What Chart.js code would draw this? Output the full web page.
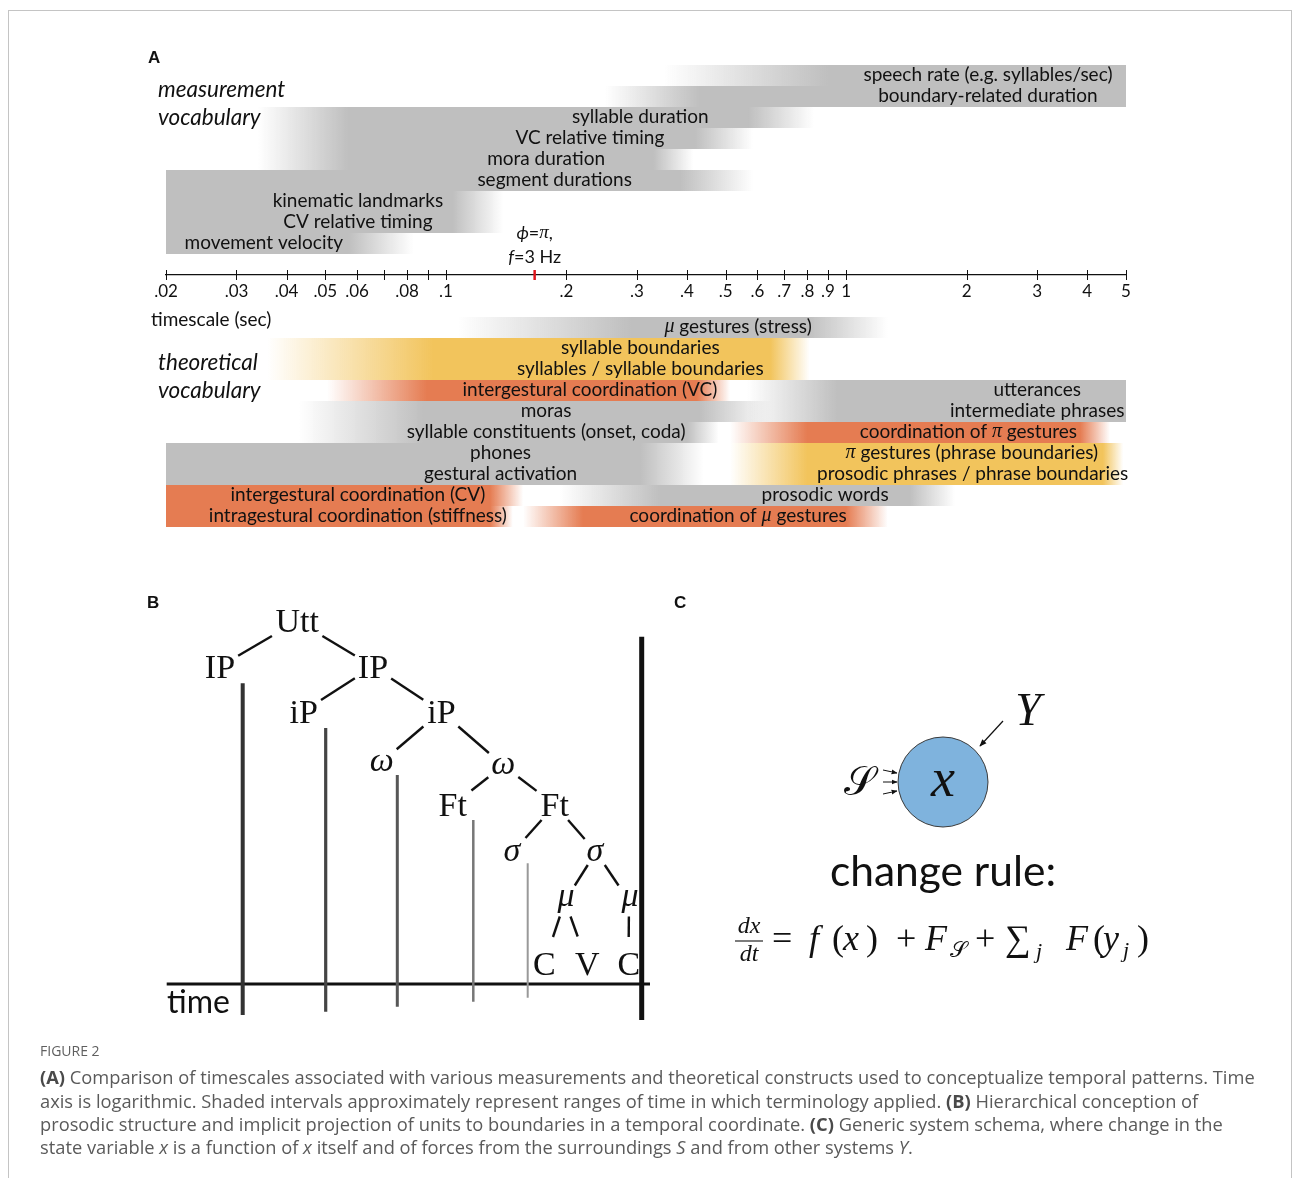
<!DOCTYPE html>
<html>
<head>
<meta charset="utf-8">
<title>Timescales of speech measurement and theory</title>
<script src="https://cdn.jsdelivr.net/npm/chart.js@4.4.1/dist/chart.umd.min.js"></script>
<style>
  html, body { margin: 0; padding: 0; background: #fff; }
  body { width: 1293px; height: 1178px; position: relative; overflow: hidden; font-family: Lato, sans-serif; color: #111; }
  #frame { position: absolute; left: 8px; top: 10px; width: 1284px; height: 1220px; border: 1px solid #c4c4c4; box-sizing: border-box; }
  canvas { position: absolute; }
  .lab { position: absolute; white-space: nowrap; line-height: 1; transform: translateY(-50%); }
  .panel { font-family: "Liberation Sans", Arial, sans-serif; font-weight: bold; font-size: 17px; }
  .vocab { font-style: italic; font-size: 22.5px; }
  .cap { position: absolute; left: 40px; white-space: nowrap; font-family: "Open Sans", sans-serif; font-size: 18.3px; color: #5a5a5a; line-height: 1; transform: translateY(-50%); }
  .cap b { color: #4a4a4a; }
  #figno { font-size: 14px; color: #5f5f5f; }
  svg { position: absolute; left: 0; top: 0; }
</style>
</head>
<body>
<div id="frame"></div>

<canvas id="timescale" width="1293" height="560" style="left:0;top:0"></canvas>
<canvas id="tree" width="520" height="445" style="left:140px;top:585px"></canvas>

<div class="lab panel" style="left:148px;top:57px">A</div>
<div class="lab vocab" style="left:158px;top:89px">measurement</div>
<div class="lab vocab" style="left:158px;top:117px">vocabulary</div>
<div class="lab" style="left:151px;top:318px;font-size:19px">timescale (sec)</div>
<div class="lab vocab" style="left:158px;top:362px">theoretical</div>
<div class="lab vocab" style="left:158px;top:390px">vocabulary</div>

<div class="lab panel" style="left:147px;top:602px">B</div>
<div class="lab panel" style="left:674px;top:602px">C</div>

<svg width="1293" height="1178" viewBox="0 0 1293 1178">
  <defs>
    <marker id="head" viewBox="0 0 10 10" refX="9" refY="5" markerWidth="6" markerHeight="6" orient="auto">
      <path d="M0,1 L10,5 L0,9 z" fill="#111"/>
    </marker>
  </defs>
  <!-- system schema -->
  <circle cx="943" cy="782" r="45" fill="#7fb3dd" stroke="#3a3a3a" stroke-width="1"/>
  <text x="943" y="796" text-anchor="middle" font-family="'Liberation Serif', serif" font-style="italic" font-size="54" fill="#111">x</text>
  <text x="859" y="795" text-anchor="middle" font-family="'DejaVu Serif', serif" font-size="40" fill="#111">𝒮</text>
  <line x1="883" y1="770" x2="897" y2="773" stroke="#111" stroke-width="1" marker-end="url(#head)"/>
  <line x1="883" y1="782" x2="897" y2="782" stroke="#111" stroke-width="1" marker-end="url(#head)"/>
  <line x1="883" y1="794" x2="897" y2="791" stroke="#111" stroke-width="1" marker-end="url(#head)"/>
  <text x="1028" y="725" text-anchor="middle" font-family="'Liberation Serif', serif" font-style="italic" font-size="46" fill="#111">Y</text>
  <line x1="1003" y1="721" x2="980" y2="746" stroke="#111" stroke-width="1.2" marker-end="url(#head)"/>
  <text x="943" y="886" text-anchor="middle" font-family="Lato, sans-serif" font-size="42.5" fill="#111">change rule:</text>
  <!-- dx/dt = f(x) + F_S + sum_j F(y_j) -->
  <g font-family="'Liberation Serif', serif" fill="#111">
    <text x="749" y="933" text-anchor="middle" font-style="italic" font-size="24">dx</text>
    <line x1="735" y1="941" x2="763" y2="941" stroke="#111" stroke-width="1.1"/>
    <text x="749" y="961" text-anchor="middle" font-style="italic" font-size="24">dt</text>
    <text y="950" font-size="36">
      <tspan x="772">=</tspan>
      <tspan x="809" font-style="italic">f</tspan>
      <tspan x="832">(</tspan>
      <tspan x="843" font-style="italic">x</tspan>
      <tspan x="866">)</tspan>
      <tspan x="896">+</tspan>
      <tspan x="925" font-style="italic">F</tspan>
      <tspan x="950" dy="7" font-size="22" font-family="'DejaVu Serif', serif">𝒮</tspan>
      <tspan x="975" dy="-7">+</tspan>
      <tspan x="1005">∑</tspan>
      <tspan x="1036" dy="8" font-size="22" font-style="italic">j</tspan>
      <tspan x="1066" dy="-8" font-style="italic">F</tspan>
      <tspan x="1093">(</tspan>
      <tspan x="1103" font-style="italic">y</tspan>
      <tspan x="1123" dy="7" font-size="22" font-style="italic">j</tspan>
      <tspan x="1137" dy="-7">)</tspan>
    </text>
  </g>
</svg>

<div class="cap" id="figno" style="top:1051px">FIGURE 2</div>
<div class="cap" style="top:1077px"><b>(A)</b> Comparison of timescales associated with various measurements and theoretical constructs used to conceptualize temporal patterns. Time</div>
<div class="cap" style="top:1101px">axis is logarithmic. Shaded intervals approximately represent ranges of time in which terminology applied. <b>(B)</b> Hierarchical conception of</div>
<div class="cap" style="top:1124px">prosodic structure and implicit projection of units to boundaries in a temporal coordinate. <b>(C)</b> Generic system schema, where change in the</div>
<div class="cap" style="top:1147px">state variable <i>x</i> is a function of <i>x</i> itself and of forces from the surroundings <i>S</i> and from other systems <i>Y</i>.</div>

<script>
// ---------- Panel A: timescales (seconds, log axis) ----------
const tickValues = [0.02, 0.03, 0.04, 0.05, 0.06, 0.07, 0.08, 0.09, 0.1, 0.2, 0.3, 0.4, 0.5, 0.6, 0.7, 0.8, 0.9, 1, 2, 3, 4, 5];
const tickLabels = ['.02', '.03', '.04', '.05', '.06', '', '.08', '', '.1', '.2', '.3', '.4', '.5', '.6', '.7', '.8', '.9', '1', '2', '3', '4', '5'];
const halfCycleAt3Hz = 1 / 6;   // phase pi at 3 Hz
const axisRow = 9.5;            // the time axis sits between the two vocabularies

// Rows 0-8: measurement vocabulary; rows 12-21: theoretical vocabulary.
// Each range is [fade-in start, solid start, solid end, fade-out end] in seconds.
const grayText = ['speech rate (e.g. syllables/sec)', 'boundary-related duration', 'syllable duration',
  'VC relative timing', 'mora duration', 'segment durations', 'kinematic landmarks', 'CV relative timing',
  'movement velocity', 'μ gestures (stress)', 'utterances', 'moras', 'intermediate phrases',
  'syllable constituents (onset, coda)', 'phones', 'gestural activation', 'prosodic words'];
const grayRow = [0, 1, 2, 3, 4, 5, 6, 7, 8, 12, 15, 16, 16, 17, 18, 19, 20];
const grayRange = [
  [0.35, 0.9, 5, 5], [0.25, 0.43, 5, 5], [0.034, 0.057, 0.57, 0.83], [0.034, 0.057, 0.42, 0.585],
  [0.034, 0.057, 0.33, 0.415], [0.02, 0.02, 0.385, 0.585], [0.02, 0.02, 0.104, 0.139], [0.02, 0.02, 0.104, 0.139],
  [0.02, 0.02, 0.057, 0.083], [0.107, 0.29, 0.8, 1.27], [0.566, 0.95, 5, 5], [0.043, 0.088, 0.43, 0.65],
  [0.566, 0.95, 5, 5], [0.043, 0.088, 0.40, 0.48], [0.02, 0.02, 0.306, 0.44], [0.02, 0.02, 0.306, 0.44],
  [0.193, 0.343, 1.44, 1.87]];
const grayLabelAt = [2.26, 2.26, 0.306, 0.229, 0.178, 0.187, 0.0603, 0.0603, 0.0351, 0.537, 3.0, 0.178, 3.0, 0.178, 0.137, 0.137, 0.886];

const boundaryText = ['syllable boundaries', 'syllables / syllable boundaries', 'π gestures (phrase boundaries)', 'prosodic phrases / phrase boundaries'];
const boundaryRow = [13, 14, 18, 19];
const boundaryRange = [[0.0358, 0.093, 0.646, 0.81], [0.0358, 0.093, 0.646, 0.81], [0.513, 0.80, 4.38, 4.92], [0.513, 0.80, 4.38, 4.92]];
const boundaryLabelAt = [0.306, 0.306, 2.06, 2.07];

const coordText = ['intergestural coordination (VC)', 'coordination of π gestures', 'intergestural coordination (CV)',
  'intragestural coordination (stiffness)', 'coordination of μ gestures'];
const coordRow = [15, 17, 20, 21, 21];
const coordRange = [[0.0505, 0.0897, 0.424, 0.513], [0.513, 0.80, 3.84, 4.56], [0.02, 0.02, 0.129, 0.156],
  [0.02, 0.02, 0.129, 0.147], [0.156, 0.22, 1.0, 1.27]];
const coordLabelAt = [0.229, 2.02, 0.0603, 0.0603, 0.537];

const LABEL_SIZE = 19;

// Text with Greek symbols set in italic serif, _..._ set in italic
function richRuns(text) {
  const runs = [];
  text.split(/(_[^_]+_|[μπϕ])/).forEach(part => {
    if (!part) return;
    if (part[0] === '_') runs.push({ t: part.slice(1, -1), kind: 'it' });
    else if (/^[μπϕ]$/.test(part)) runs.push({ t: part, kind: 'greek' });
    else runs.push({ t: part, kind: 'plain' });
  });
  return runs;
}
function runFont(kind, size) {
  if (kind === 'greek') return `italic ${size + 1}px "Liberation Serif"`;
  if (kind === 'it') return `italic ${size}px Lato`;
  return `${size}px Lato`;
}
function drawRich(ctx, text, cx, cy, size) {
  const runs = richRuns(text);
  let total = 0;
  runs.forEach(r => { ctx.font = runFont(r.kind, size); r.w = ctx.measureText(r.t).width; total += r.w; });
  let x = cx - total / 2;
  ctx.textAlign = 'left';
  ctx.textBaseline = 'middle';
  ctx.fillStyle = '#111';
  runs.forEach(r => { ctx.font = runFont(r.kind, size); ctx.fillText(r.t, x, cy); x += r.w; });
}

// Horizontal fill that fades in and out at the ends of each interval
function fadeFill(c, ranges, rgb) {
  const chart = c.chart;
  const xs = chart.scales && chart.scales.x;
  const solid = `rgba(${rgb},1)`, clear = `rgba(${rgb},0)`;
  if (!xs || c.type !== 'data' || !chart.chartArea) return solid;
  const [a, b, e, f] = ranges[c.dataIndex].map(v => xs.getPixelForValue(v));
  if (![a, b, e, f].every(Number.isFinite)) return solid;
  const span = Math.max(f - a, 1);
  const g = chart.ctx.createLinearGradient(a, 0, a + span, 0);
  const clamp = v => Math.min(Math.max(v, 0), 1);
  g.addColorStop(0, b > a + 0.5 ? clear : solid);
  g.addColorStop(clamp((b - a) / span), solid);
  g.addColorStop(clamp((e - a) / span), solid);
  g.addColorStop(1, f > e + 0.5 ? clear : solid);
  return g;
}

function makeDataset(name, rows, ranges, texts, labelAt, rgb) {
  return {
    label: name,
    data: rows.map((r, i) => ({ x: [ranges[i][0], ranges[i][3]], y: r })),
    texts, labelAt,
    backgroundColor: c => fadeFill(c, ranges, rgb),
    borderWidth: 0,
    borderSkipped: false,
    inflateAmount: 0,
    grouped: false,
    barPercentage: 1,
    categoryPercentage: 1
  };
}

const timescaleMarks = {
  id: 'timescaleMarks',
  afterDatasetsDraw(chart) {
    const { ctx, scales: { x, y } } = chart;
    ctx.save();
    chart.data.datasets.forEach(ds => {
      ds.data.forEach((d, i) => {
        drawRich(ctx, ds.texts[i], x.getPixelForValue(ds.labelAt[i]), y.getPixelForValue(d.y) - 1, LABEL_SIZE);
      });
    });
    ctx.restore();
  },
  afterDraw(chart) {
    const { ctx, scales: { x, y } } = chart;
    const ay = y.getPixelForValue(axisRow);
    ctx.save();
    ctx.strokeStyle = '#111';
    ctx.lineWidth = 1;
    x.ticks.forEach((t, i) => {
      const px = Math.round(x.getPixelForTick(i)) + 0.5;
      ctx.beginPath(); ctx.moveTo(px, ay - 5); ctx.lineTo(px, ay + 5); ctx.stroke();
    });
    const rx = x.getPixelForValue(halfCycleAt3Hz);
    ctx.strokeStyle = '#e0141c';
    ctx.lineWidth = 2.5;
    ctx.beginPath(); ctx.moveTo(rx, ay - 5); ctx.lineTo(rx, ay + 5); ctx.stroke();
    drawRich(ctx, '_ϕ_=π,', rx, ay - 42, 18);
    drawRich(ctx, '_f_=3 Hz', rx, ay - 18, 18);
    ctx.restore();
  }
};

new Chart(document.getElementById('timescale'), {
  type: 'bar',
  data: {
    datasets: [
      makeDataset('gray', grayRow, grayRange, grayText, grayLabelAt, '191,191,191'),
      makeDataset('boundaries', boundaryRow, boundaryRange, boundaryText, boundaryLabelAt, '242,196,92'),
      makeDataset('coordination', coordRow, coordRange, coordText, coordLabelAt, '229,124,82')
    ]
  },
  options: {
    indexAxis: 'y',
    responsive: false,
    animation: false,
    events: [],
    layout: { padding: { left: 166, right: 167, top: 65, bottom: 33 } },
    plugins: { legend: { display: false }, tooltip: { enabled: false } },
    scales: {
      x: {
        type: 'logarithmic',
        min: 0.02,
        max: 5,
        position: { y: axisRow },
        afterBuildTicks: s => { s.ticks = tickValues.map(v => ({ value: v })); },
        ticks: {
          autoSkip: false,
          maxRotation: 0,
          padding: 6,
          color: '#111',
          font: { family: 'Lato', size: 17 },
          callback: (v, i) => tickLabels[i]
        },
        grid: { display: false, drawTicks: false },
        border: { display: true, color: '#111', width: 1.3 }
      },
      y: {
        type: 'linear',
        reverse: true,
        offset: false,
        bounds: 'data',
        min: -0.5,
        max: 21.5,
        display: false,
        ticks: { stepSize: 1, includeBounds: false }
      }
    }
  },
  plugins: [timescaleMarks]
});

// ---------- Panel B: prosodic hierarchy projected onto time ----------
const treeLabels = ['Utt', 'IP', 'IP', 'iP', 'iP', 'ω', 'ω', 'Ft', 'Ft', 'σ', 'σ', 'μ', 'μ', 'C', 'V', 'C'];
const treeX = [15.75, 8.0, 23.3, 16.33, 30.1, 24.17, 36.33, 31.3, 41.5, 37.3, 45.6, 42.5, 48.9, 40.4, 44.75, 48.85];
const treeY = [3.6, 8.15, 8.15, 12.65, 12.65, 17.7, 18.05, 22.0, 22.0, 26.7, 26.7, 31.6, 31.6, 37.9, 37.9, 37.9];
const treeParent = [null, 0, 0, 2, 2, 4, 4, 6, 6, 8, 8, 10, 10, 11, 11, 12];
const boundaryTime = [10.27, 18.57, 25.73, 33.33, 38.77, 50.17];
const boundaryTop = [9.83, 14.3, 19.0, 23.5, 27.83, 5.17];
const boundaryBottom = [43.0, 42.67, 42.17, 41.67, 41.27, 43.5];
const timeLine = { from: 2.67, to: 51, level: 39.9 };

const boundaryStyle = [
  { color: '#333', width: 4 }, { color: '#444', width: 3.2 }, { color: '#575757', width: 3 },
  { color: '#777', width: 2.5 }, { color: '#999', width: 2 }, { color: '#111', width: 5 }];

const isGreek = s => /^[ωσμ]$/.test(s);
const nodeFont = s => isGreek(s) ? 'italic 34px "Liberation Serif"' : '34px "Liberation Serif"';

const treeMarks = {
  id: 'treeMarks',
  afterDatasetsDraw(chart) {
    const { ctx, scales: { x, y } } = chart;
    ctx.save();
    // label boxes
    const boxes = treeLabels.map((s, i) => {
      ctx.font = nodeFont(s);
      const m = ctx.measureText(s);
      return {
        cx: x.getPixelForValue(treeX[i]), cy: y.getPixelForValue(treeY[i]),
        hw: (m.actualBoundingBoxLeft + m.actualBoundingBoxRight) / 2,
        hh: (m.actualBoundingBoxAscent + m.actualBoundingBoxDescent) / 2, m
      };
    });
    // edges, clipped to stay clear of the labels
    ctx.strokeStyle = '#111';
    ctx.lineWidth = 2.4;
    ctx.lineCap = 'butt';
    const leafGap = 12, gap = 4;
    const exitT = (b, dx, dy, extra) => {
      const tx = Math.abs(dx) > 1e-6 ? (b.hw + gap) / Math.abs(dx) : Infinity;
      const ty = Math.abs(dy) > 1e-6 ? (b.hh + gap + extra) / Math.abs(dy) : Infinity;
      return Math.min(tx, ty);
    };
    treeParent.forEach((p, i) => {
      if (p === null) return;
      const a = boxes[p], b = boxes[i];
      const dx = b.cx - a.cx, dy = b.cy - a.cy, len = Math.hypot(dx, dy);
      const ux = dx / len, uy = dy / len;
      const isLeaf = !treeParent.includes(i);
      const t0 = exitT(a, ux, uy, 0);
      const t1 = exitT(b, ux, uy, isLeaf ? leafGap : 0);
      ctx.beginPath();
      ctx.moveTo(a.cx + ux * t0, a.cy + uy * t0);
      ctx.lineTo(b.cx - ux * t1, b.cy - uy * t1);
      ctx.stroke();
    });
    // node labels centred on their ink
    ctx.fillStyle = '#111';
    ctx.textAlign = 'left';
    ctx.textBaseline = 'alphabetic';
    treeLabels.forEach((s, i) => {
      const b = boxes[i];
      ctx.font = nodeFont(s);
      const m = b.m;
      const left = b.cx - b.hw + m.actualBoundingBoxLeft;
      const base = b.cy - b.hh + m.actualBoundingBoxAscent;
      ctx.fillText(s, left, base);
    });
    // axis name
    ctx.font = '32px Lato';
    ctx.textBaseline = 'middle';
    ctx.textAlign = 'left';
    ctx.fillText('time', x.getPixelForValue(2.7), y.getPixelForValue(41.8));
    ctx.restore();
  }
};

const treeDatasets = boundaryTime.map((t, i) => ({
  type: 'line',
  data: [{ x: t, y: boundaryTop[i] }, { x: t, y: boundaryBottom[i] }],
  borderColor: boundaryStyle[i].color,
  borderWidth: boundaryStyle[i].width,
  pointRadius: 0,
  showLine: true
}));
treeDatasets.push({
  type: 'line',
  data: [{ x: timeLine.from, y: timeLine.level }, { x: timeLine.to, y: timeLine.level }],
  borderColor: '#111',
  borderWidth: 3,
  pointRadius: 0,
  showLine: true
});

new Chart(document.getElementById('tree'), {
  type: 'scatter',
  data: { datasets: treeDatasets },
  options: {
    responsive: false,
    animation: false,
    events: [],
    layout: { padding: 0 },
    plugins: { legend: { display: false }, tooltip: { enabled: false } },
    scales: {
      x: { type: 'linear', min: 0, max: 52, display: false },
      y: { type: 'linear', min: 0, max: 44.5, reverse: true, display: false }
    }
  },
  plugins: [treeMarks]
});
</script>
</body>
</html>
